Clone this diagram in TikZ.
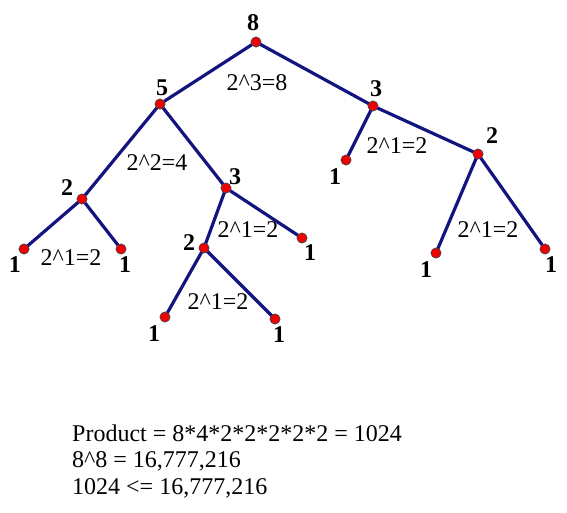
\documentclass[tikz,border=0pt]{standalone}
\usepackage{fontspec}
\setmainfont{Liberation Serif}
\definecolor{edgeblue}{RGB}{20,20,128}
\definecolor{dotred}{RGB}{240,0,0}
\begin{document}
\begin{tikzpicture}[x=1pt,y=-1pt,
  dot/.style={circle,fill=dotred,draw=black!70,line width=0.6pt,minimum size=10pt,inner sep=0pt},
  lab/.style={font=\fontsize{24}{27}\selectfont\bfseries,inner sep=0pt},
  expl/.style={font=\fontsize{24}{27}\selectfont,inner sep=0pt},
  edge/.style={draw=edgeblue,line width=3.2pt}]
\useasboundingbox (0,0) rectangle (567,512);
% nodes
\node[dot] (r) at (256,42) {};
\node[dot] (a) at (160,104) {};
\node[dot] (b) at (373,106) {};
\node[dot] (b1) at (346,160) {};
\node[dot] (b2) at (478,154) {};
\node[dot] (b21) at (436,253) {};
\node[dot] (b22) at (545,249) {};
\node[dot] (a1) at (82,199) {};
\node[dot] (a11) at (24,249) {};
\node[dot] (a12) at (121,249) {};
\node[dot] (a2) at (226,188) {};
\node[dot] (a21) at (204,248) {};
\node[dot] (a22) at (302,238) {};
\node[dot] (a211) at (165,317) {};
\node[dot] (a212) at (275,319) {};
% edges
\draw[edge] (r.center) -- (a.center);
\draw[edge] (r.center) -- (b.center);
\draw[edge] (b.center) -- (b1.center);
\draw[edge] (b.center) -- (b2.center);
\draw[edge] (b2.center) -- (b21.center);
\draw[edge] (b2.center) -- (b22.center);
\draw[edge] (a.center) -- (a1.center);
\draw[edge] (a.center) -- (a2.center);
\draw[edge] (a1.center) -- (a11.center);
\draw[edge] (a1.center) -- (a12.center);
\draw[edge] (a2.center) -- (a21.center);
\draw[edge] (a2.center) -- (a22.center);
\draw[edge] (a21.center) -- (a211.center);
\draw[edge] (a21.center) -- (a212.center);
% redraw dots on top
\foreach \n in {r,a,b,b1,b2,b21,b22,a1,a11,a12,a2,a21,a22,a211,a212}
  \node[dot] at (\n) {};
% value labels
\node[lab] (lr) at (253,23) {8};
\node[lab] (la) at (162,88) {5};
\node[lab] (lb) at (376,89) {3};
\node[lab] (lb1) at (335,177) {1};
\node[lab] (lb2) at (492,136) {2};
\node[lab] (lb21) at (426,270) {1};
\node[lab] (lb22) at (551,265) {1};
\node[lab] (la1) at (67,188) {2};
\node[lab] (la11) at (15,265) {1};
\node[lab] (la12) at (125,265) {1};
\node[lab] (la2) at (235,177) {3};
\node[lab] (la21) at (189,243) {2};
\node[lab] (la22) at (310,253) {1};
\node[lab] (la211) at (154,334) {1};
\node[lab] (la212) at (279,335) {1};
% exponent labels
\node[expl] (e1) at (257,83) {2\textasciicircum3=8};
\node[expl] (e2) at (157,163) {2\textasciicircum2=4};
\node[expl] (e3) at (397,146) {2\textasciicircum1=2};
\node[expl] (e4) at (71,258) {2\textasciicircum1=2};
\node[expl] (e5) at (248,230) {2\textasciicircum1=2};
\node[expl] (e6) at (218,302) {2\textasciicircum1=2};
\node[expl] (e7) at (488,230) {2\textasciicircum1=2};
% bottom text
\node[expl,anchor=base west] (t1) at (72,441) {Product = 8*4*2*2*2*2*2 = 1024};
\node[expl,anchor=base west] (t2) at (72,467) {8\textasciicircum8 = 16,777,216};
\node[expl,anchor=base west] (t3) at (72,494) {1024 <= 16,777,216};
\end{tikzpicture}
\end{document}
